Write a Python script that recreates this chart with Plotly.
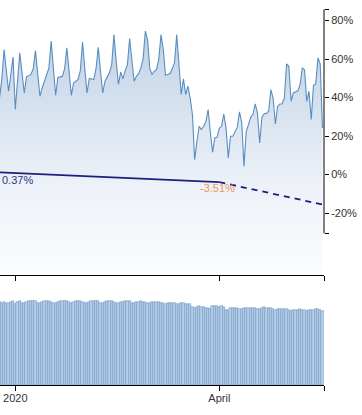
import pandas as pd
import plotly.graph_objects as go

# ---- data -------------------------------------------------------------
dates = pd.date_range("2019-12-25", "2020-05-17", freq="D")

occupancy_change = [
    40, 50, 64.9, 54, 43.3, 52, 61.1,
    33.8, 48, 63.2, 53, 42.4, 50.8, 51.4,
    52, 55, 64.4, 52.5, 40.7, 45, 48.5,
    51.5, 55.4, 69.3, 55, 41.2, 50.5, 50.7,
    51, 55, 65.8, 53.5, 41.2, 47.6, 48.5,
    49.4, 54, 68.9, 55, 42.4, 49.9, 49.6,
    49.4, 55, 66.1, 54, 42.4, 48.5, 51,
    53, 57, 72.7, 59, 46.8, 53.3, 49.7,
    54, 57, 70.7, 59, 48.5, 51, 52.5,
    55.4, 60, 74.5, 70, 55, 52, 53.7,
    54.5, 60, 72.7, 65, 51.6, 52, 52.5,
    55, 58, 72.7, 55.4, 41.6, 49.7, 41.6,
    45.9, 39.8, 31.2, 7.8, 17, 25.1, 23.4,
    25, 27.5, 33.8, 22, 11.6, 19.2, 19.4,
    24, 25.1, 31.5, 24, 8.7, 19.9, 19.9,
    22.5, 24.5, 32.6, 27, 4.3, 22.5, 26,
    29.8, 31.2, 36.7, 32.1, 16.5, 29.8, 31.5,
    31.8, 33, 44.2, 39.5, 26.3, 35.5, 36.7,
    36.7, 39.8, 57.5, 56.3, 38.1, 42.4, 43,
    43.5, 46.8, 55.4, 54.5, 38.1, 43.3, 28.6,
    46.4, 47.1, 60.6, 57.5, 24.2,
]

volume = [
    97.5, 96.5, 98, 97, 96, 98, 98.5,
    95.5, 97.5, 98.5, 97, 96.5, 98, 98.5,
    99, 99.5, 98.5, 97, 96.5, 98, 98.5,
    98.5, 99, 98, 97, 96, 98, 98.5,
    98.5, 99.5, 99, 97.5, 96.5, 98, 98.5,
    99, 98.5, 98, 97, 96.5, 98, 98.5,
    99, 99.5, 98.5, 97, 96.5, 98, 98.5,
    98.5, 99, 98, 97, 96.5, 97.5, 98,
    98.5, 99, 98.5, 97, 96, 97.5, 98,
    98.5, 98, 97.5, 96.5, 96, 97.5, 98,
    98, 97.5, 97, 96, 95.5, 96.5, 97,
    96.5, 96, 95.5, 95.5, 96, 96, 95.5,
    95, 95.5, 92, 91, 92, 92.5, 92,
    91.5, 90.5, 91, 89, 92.5, 92.5, 92.5,
    92, 92.5, 91.5, 88.5, 88.5, 90.5, 90.5,
    90.5, 90.5, 90, 89, 90.5, 91, 91,
    91, 90.5, 91, 90, 89, 91, 91.5,
    91, 91, 90.5, 89.5, 88.5, 89, 89.5,
    89.5, 89, 89, 88.5, 87.5, 88.5, 88.5,
    88.5, 89, 88.5, 88, 87.5, 88, 88.5,
    88.5, 89, 89, 88.5, 87.5,
]

trend_dates = ["2019-12-24", "2020-04-01"]
trend_values = [1.25, -3.9]
forecast_dates = ["2020-04-01", "2020-05-17"]
forecast_values = [-3.9, -15.5]

label_start = "0.37%"
label_april = "-3.51%"

y_tickvals = [-30.5, -20, 0, 20, 40, 60, 80, 85.8]
y_ticktext = ["", "-20%", "0%", "20%", "40%", "60%", "80%", ""]
x_tickvals = ["2020-01-01", "2020-04-01", "2020-05-17 16:30"]
x_ticktext = ["2020", "April", ""]

x_range = ["2019-12-25 04:20", "2020-05-17 16:30"]
y_range = [-52.1, 86.0]

# ---- figure -----------------------------------------------------------
FONT = "Liberation Sans, Arial, sans-serif"
fig = go.Figure()

# baseline for the gradient fill (bottom of the top panel)
fig.add_trace(go.Scatter(
    x=dates, y=[y_range[0]] * len(dates), mode="lines",
    line=dict(width=0, color="rgba(0,0,0,0)"), hoverinfo="skip",
    showlegend=False, xaxis="x", yaxis="y"))

fig.add_trace(go.Scatter(
    x=dates, y=occupancy_change, mode="lines",
    line=dict(color="#5a8ec0", width=1.1),
    fill="tonexty",
    fillgradient=dict(type="vertical", start=y_range[0], stop=78,
                      colorscale=[[0, "#fbfcfe"], [0.35, "#eef2f8"],
                                  [1, "#bdd0e5"]]),
    showlegend=False, xaxis="x", yaxis="y"))

fig.add_trace(go.Scatter(
    x=trend_dates, y=trend_values, mode="lines",
    line=dict(color="#1e1e80", width=1.6),
    showlegend=False, xaxis="x", yaxis="y"))

fig.add_trace(go.Scatter(
    x=forecast_dates, y=forecast_values, mode="lines",
    line=dict(color="#1e1e80", width=1.8, dash="6px,5px"),
    showlegend=False, xaxis="x", yaxis="y"))

fig.add_trace(go.Bar(
    x=dates, y=volume,
    marker=dict(color="#b6cfe8", line=dict(color="#6691bd", width=0.5)),
    showlegend=False, xaxis="x2", yaxis="y2"))

fig.update_layout(
    width=362, height=415,
    margin=dict(l=0, r=38, t=9, b=30, autoexpand=False),
    paper_bgcolor="white", plot_bgcolor="white",
    font=dict(family=FONT, size=11, color="#333"),
    bargap=0,
    xaxis=dict(domain=[0, 1], range=x_range, type="date", anchor="y",
               showgrid=False, zeroline=False, showline=True,
               linecolor="black", linewidth=1,
               ticks="outside", ticklen=5, tickcolor="black",
               tickvals=x_tickvals, showticklabels=False),
    yaxis=dict(domain=[0.2926, 1], range=y_range, side="right", anchor="x",
               showgrid=False, zeroline=False, showline=False,
               ticks="outside", ticklen=4, tickcolor="black",
               tickvals=y_tickvals, ticktext=y_ticktext,
               tickfont=dict(size=11, color="#333")),
    xaxis2=dict(domain=[0, 1], range=x_range, type="date", anchor="y2",
                showgrid=False, zeroline=False, showline=True,
                linecolor="black", linewidth=1,
                ticks="outside", ticklen=5, tickcolor="black",
                tickvals=x_tickvals, ticktext=x_ticktext,
                ticklabelstandoff=-2,
                tickfont=dict(size=11, color="#333")),
    yaxis2=dict(domain=[0, 0.2261], range=[0, 100], anchor="x2",
                visible=False),
    shapes=[dict(type="line", xref="x domain", yref="y",
                 x0=1, x1=1, y0=-30.5, y1=85.8,
                 line=dict(color="black", width=1))],
    annotations=[
        dict(x=x_range[0], y=-2.8, xref="x", yref="y", text=label_start,
             showarrow=False, xanchor="left", yanchor="middle",
             font=dict(size=11, color="#2b3a7e")),
        dict(x="2020-03-31", y=-6.8, xref="x", yref="y", text=label_april,
             showarrow=False, xanchor="center", yanchor="middle",
             font=dict(size=11, color="#f0955c")),
    ],
)

fig.write_html("out.html",
               config={"displayModeBar": False},
               post_script="document.body.style.margin='0px';")
